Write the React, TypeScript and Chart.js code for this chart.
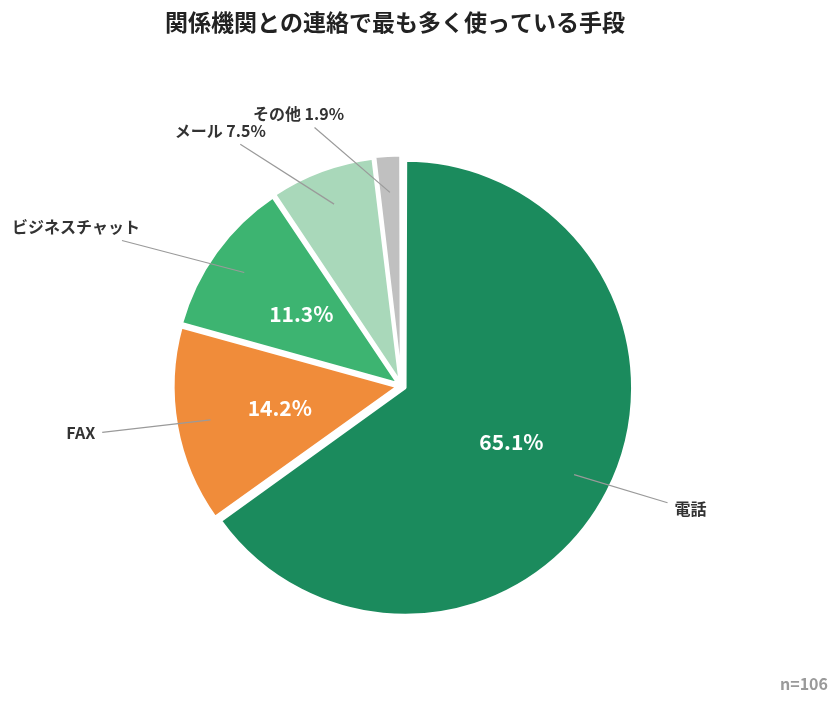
import { useEffect, useRef } from "react";
import { Chart, ArcElement, PieController, Title } from "chart.js";
import type { Plugin } from "chart.js";

Chart.register(ArcElement, PieController, Title);

const TITLE = "関係機関との連絡で最も多く使っている手段";
const categories = ["電話", "FAX", "ビジネスチャット", "メール", "その他"];
const shares = [65.1, 14.2, 11.3, 7.5, 1.9];
const colors = ["#1b8b5d", "#f08c3a", "#3db471", "#a9d8ba", "#c0c0c0"];
const SAMPLE = "n=106";

// where each name sits: leader end (deg clockwise from top, radius factor), text shift, alignment
const labelLayout = [
  { ang: 113.7, rf: 1.3, dx: 7, dy: 6, align: "left", pct: "inside" },
  { ang: 261.2, rf: 1.355, dx: -7, dy: 1, align: "right", pct: "inside" },
  { ang: 297.5, rf: 1.41, dx: 18, dy: -14, align: "right", pct: "inside" },
  { ang: 326.3, rf: 1.3, dx: -20, dy: -13, align: "center", pct: "name" },
  { ang: 341.4, rf: 1.22, dx: -16, dy: -14, align: "center", pct: "name" },
] as const;

const FONT = '"Noto Sans CJK JP", "Noto Sans", sans-serif';
const OFFSET = 16;

const labelPlugin: Plugin<"pie"> = {
  id: "pieLabels",
  afterDatasetsDraw(chart) {
    const ctx = chart.ctx;
    const meta = chart.getDatasetMeta(0);
    ctx.save();
    meta.data.forEach((el, i) => {
      const arc = el as unknown as ArcElement;
      const { x, y, startAngle, endAngle, outerRadius } = arc.getProps(
        ["x", "y", "startAngle", "endAngle", "outerRadius"],
        true
      ) as any;
      const mid = (startAngle + endAngle) / 2;
      const cx = x + Math.cos(mid) * (OFFSET / 4);
      const cy = y + Math.sin(mid) * (OFFSET / 4);
      const lay = labelLayout[i];
      const pctText = shares[i].toFixed(1) + "%";

      // leader line
      const sx = cx + Math.cos(mid) * outerRadius * 0.85;
      const sy = cy + Math.sin(mid) * outerRadius * 0.85;
      const ea = (lay.ang * Math.PI) / 180 - Math.PI / 2;
      const ex = x + Math.cos(ea) * outerRadius * lay.rf;
      const ey = y + Math.sin(ea) * outerRadius * lay.rf;
      ctx.strokeStyle = "#9a9a9a";
      ctx.lineWidth = 1.2;
      ctx.beginPath();
      ctx.moveTo(sx, sy);
      ctx.lineTo(ex, ey);
      ctx.stroke();

      // name label
      ctx.fillStyle = "#333333";
      ctx.font = `bold 16px ${FONT}`;
      ctx.textAlign = lay.align as CanvasTextAlign;
      ctx.textBaseline = "middle";
      const name = lay.pct === "name" ? `${categories[i]} ${pctText}` : categories[i];
      ctx.fillText(name, ex + lay.dx, ey + lay.dy);

      // percentage inside
      if (lay.pct === "inside") {
        ctx.fillStyle = "#ffffff";
        ctx.font = `bold 21px ${FONT}`;
        ctx.textAlign = "center";
        ctx.fillText(pctText, cx + Math.cos(mid) * outerRadius * 0.535, cy + Math.sin(mid) * outerRadius * 0.535);
      }
    });

    // title and sample size
    ctx.fillStyle = "#222222";
    ctx.font = `bold 23px ${FONT}`;
    ctx.textAlign = "center";
    ctx.textBaseline = "middle";
    ctx.fillText(TITLE, 395, 22);
    ctx.fillStyle = "#9a9a9a";
    ctx.font = `bold 16px ${FONT}`;
    ctx.textAlign = "right";
    ctx.fillText(SAMPLE, 828, 684);
    ctx.restore();
  },
};

export default function App() {
  const canvasRef = useRef<HTMLCanvasElement>(null);
  const chartRef = useRef<Chart<"pie"> | null>(null);

  useEffect(() => {
    if (!canvasRef.current) return;
    chartRef.current?.destroy();
    chartRef.current = new Chart(canvasRef.current, {
      type: "pie",
      data: {
        labels: categories,
        datasets: [
          {
            data: shares,
            backgroundColor: colors,
            borderColor: "#ffffff",
            borderWidth: 3,
            offset: OFFSET,
          },
        ],
      },
      options: {
        responsive: false,
        animation: false,
        layout: { padding: { top: 153, bottom: 86, left: 0, right: 37 } },
        plugins: {
          legend: { display: false },
          tooltip: { enabled: false },
          title: { display: false },
        },
      },
      plugins: [labelPlugin],
    });
    return () => {
      chartRef.current?.destroy();
    };
  }, []);

  return (
    <div style={{ position: "absolute", left: 0, top: 0, width: 840, height: 705, background: "#fff" }}>
      <canvas ref={canvasRef} width={840} height={705} />
    </div>
  );
}
